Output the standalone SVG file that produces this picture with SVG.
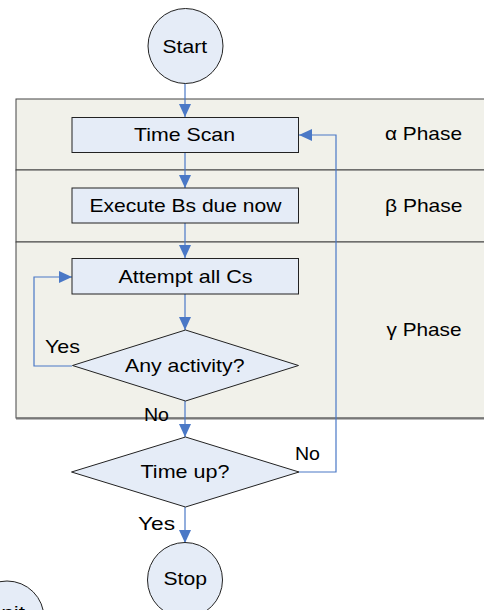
<svg xmlns="http://www.w3.org/2000/svg" width="484" height="610" viewBox="0 0 484 610">
  <style>
    .band { fill: #f1f1ea; stroke: #444; stroke-width: 1; }
    .box { fill: #e5ecf7; stroke: #222; stroke-width: 1; }
    .term { fill: #e5ecf7; stroke: #222; stroke-width: 1; }
    .lbl { font-family: "Liberation Sans", Arial, sans-serif; font-size: 19px; fill: #000; }
    .conn { fill: none; stroke: #4a78c6; stroke-width: 1.2; }
  </style>
  <defs>
    <marker id="arrow" markerUnits="userSpaceOnUse" markerWidth="14" markerHeight="13" refX="13" refY="6" orient="auto">
      <path d="M0,0 L13,6 L0,12 z" fill="#4a78c6"/>
    </marker>
  </defs>

  <!-- phase bands -->
  <g id="phase-alpha">
    <rect class="band" x="16" y="99" width="480" height="71"/>
    <text class="lbl" x="385" y="140" textLength="77" lengthAdjust="spacingAndGlyphs">α Phase</text>
  </g>
  <g id="phase-beta">
    <rect class="band" x="16" y="170" width="480" height="72"/>
    <text class="lbl" x="385" y="211.5" textLength="77.5" lengthAdjust="spacingAndGlyphs">β Phase</text>
  </g>
  <g id="phase-gamma">
    <rect class="band" x="16" y="242" width="480" height="176"/>
    <line x1="16" y1="418.5" x2="484" y2="418.5" stroke="#777" stroke-width="2"/>
    <text class="lbl" x="386.5" y="335.5" textLength="75" lengthAdjust="spacingAndGlyphs">γ Phase</text>
  </g>

  <!-- connectors -->
  <g id="connectors">
    <path class="conn" d="M185,83 V117" marker-end="url(#arrow)"/>
    <path class="conn" d="M185,152 V188" marker-end="url(#arrow)"/>
    <path class="conn" d="M185,223 V258" marker-end="url(#arrow)"/>
    <path class="conn" d="M185,294 V330" marker-end="url(#arrow)"/>
    <path class="conn" d="M185,401 V437" marker-end="url(#arrow)"/>
    <path class="conn" d="M185,507 V543" marker-end="url(#arrow)"/>
    <path class="conn" d="M72,366 H34 V277 H72" marker-end="url(#arrow)"/>
    <path class="conn" d="M299,472 H336 V135 H299" marker-end="url(#arrow)"/>
    <text class="lbl" x="45" y="353" textLength="35" lengthAdjust="spacingAndGlyphs">Yes</text>
    <text class="lbl" x="144" y="420.5" textLength="25" lengthAdjust="spacingAndGlyphs">No</text>
    <text class="lbl" x="295" y="459.5" textLength="25" lengthAdjust="spacingAndGlyphs">No</text>
    <text class="lbl" x="138" y="529.5" textLength="37" lengthAdjust="spacingAndGlyphs">Yes</text>
  </g>

  <!-- nodes -->
  <g id="start">
    <circle class="term" cx="185.5" cy="46" r="37.5"/>
    <text class="lbl" x="162.5" y="53" textLength="44.5" lengthAdjust="spacingAndGlyphs">Start</text>
  </g>
  <g id="time-scan">
    <rect class="box" x="72" y="117.5" width="226.5" height="35"/>
    <text class="lbl" x="134" y="141" textLength="101" lengthAdjust="spacingAndGlyphs">Time Scan</text>
  </g>
  <g id="execute-bs">
    <rect class="box" x="72" y="188" width="226.5" height="35"/>
    <text class="lbl" x="89.5" y="211.5" textLength="192" lengthAdjust="spacingAndGlyphs">Execute Bs due now</text>
  </g>
  <g id="attempt-cs">
    <rect class="box" x="72" y="258.5" width="226.5" height="35.5"/>
    <text class="lbl" x="118.5" y="282.5" textLength="134" lengthAdjust="spacingAndGlyphs">Attempt all Cs</text>
  </g>
  <g id="any-activity">
    <polygon class="box" points="185.5,330 298.5,365.5 185.5,401 72.5,365.5"/>
    <text class="lbl" x="125" y="372" textLength="119.5" lengthAdjust="spacingAndGlyphs">Any activity?</text>
  </g>
  <g id="time-up">
    <polygon class="box" points="185.5,437 299,472 185.5,507 71.5,472"/>
    <text class="lbl" x="140.5" y="478" textLength="89" lengthAdjust="spacingAndGlyphs">Time up?</text>
  </g>
  <g id="stop">
    <circle class="term" cx="185" cy="580" r="37.5"/>
    <text class="lbl" x="163.5" y="585" textLength="43.5" lengthAdjust="spacingAndGlyphs">Stop</text>
  </g>
  <g id="init">
    <circle class="term" cx="7" cy="618" r="37"/>
    <text class="lbl" x="-5" y="619" textLength="30" lengthAdjust="spacingAndGlyphs">Init</text>
  </g>
</svg>
